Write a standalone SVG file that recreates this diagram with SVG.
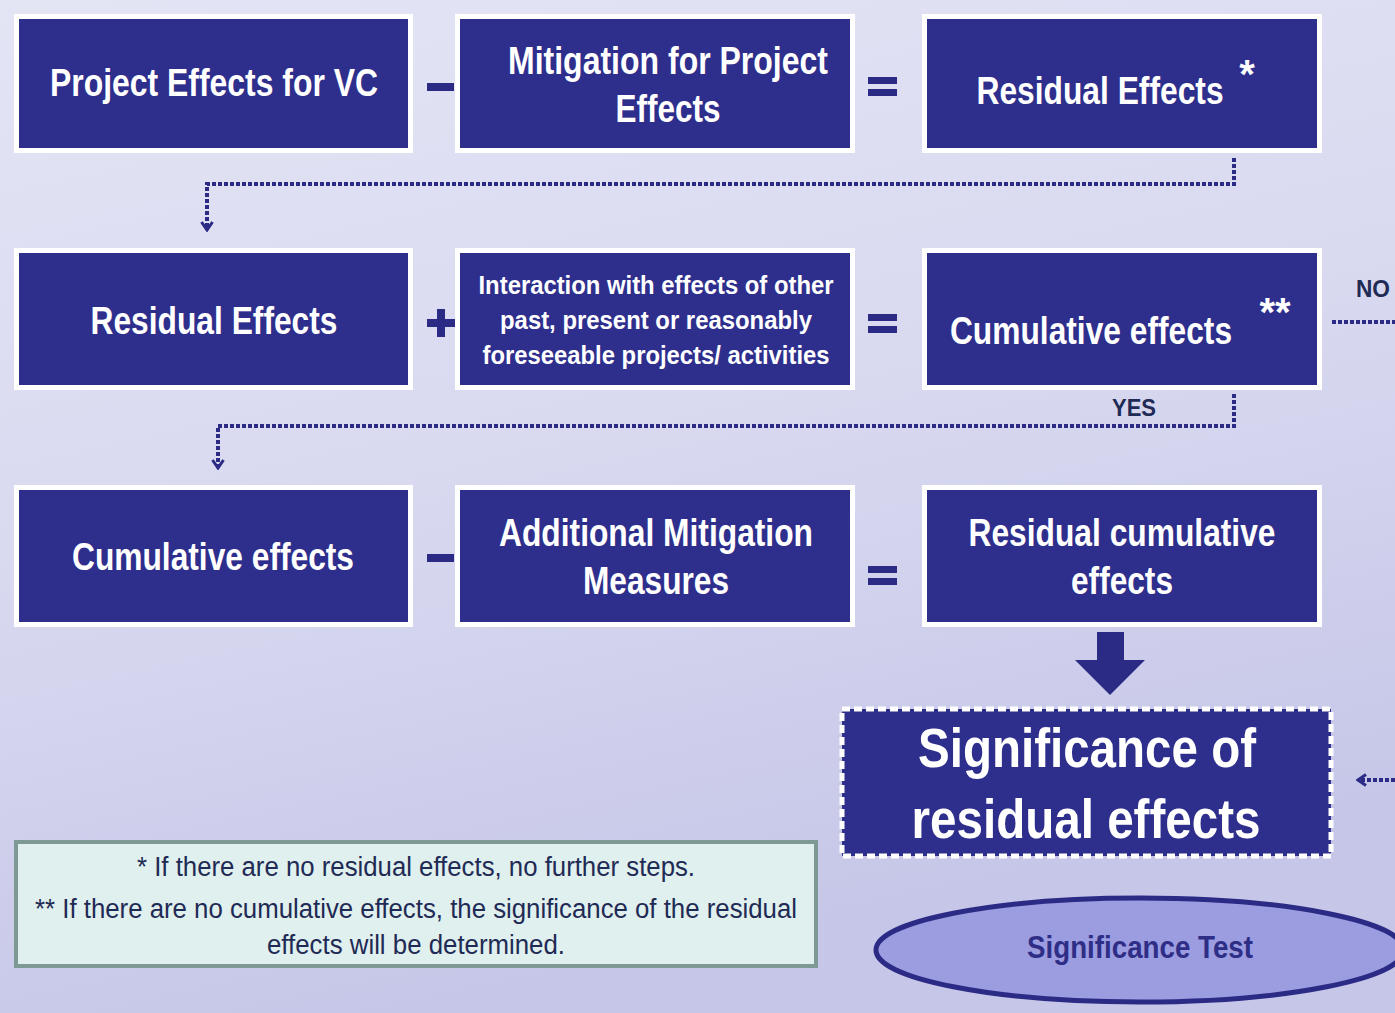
<svg xmlns="http://www.w3.org/2000/svg" width="1395" height="1013" viewBox="0 0 1395 1013">
  <defs>
    <linearGradient id="bg" x1="0" y1="0" x2="0.3" y2="1">
      <stop offset="0" stop-color="#e3e4f4"/>
      <stop offset="0.5" stop-color="#d9daf0"/>
      <stop offset="1" stop-color="#c6c6e8"/>
    </linearGradient>
    <marker id="chev" viewBox="0 0 12 14" refX="10" refY="7" markerWidth="12" markerHeight="14" markerUnits="userSpaceOnUse" orient="auto">
      <path d="M2,1.5 L10,7 L2,12.5" fill="none" stroke="#2b2b86" stroke-width="3"/>
    </marker>
    <style>
      .box { fill: #2e2e8c; stroke: #ffffff; stroke-width: 5; }
      .lbl { fill: #ffffff; font-family: "Liberation Sans", Arial, sans-serif; font-weight: bold; text-anchor: middle; }
      .op { fill: #2b2b86; }
      .dot { fill: none; stroke: #2b2b86; stroke-width: 4; stroke-dasharray: 4 2; }
      .note { fill: #1f2a55; font-family: "Liberation Sans", Arial, sans-serif; font-size: 27px; text-anchor: middle; }
      .tag { fill: #1f2a55; font-family: "Liberation Sans", Arial, sans-serif; font-weight: bold; font-size: 24px; text-anchor: middle; }
    </style>
  </defs>

  <rect width="1395" height="1013" fill="url(#bg)"/>

  <!-- row 1 -->
  <g id="project-effects">
    <rect class="box" x="16.5" y="16.5" width="394" height="134"/>
    <text class="lbl" x="214" y="96" font-size="38" textLength="328" lengthAdjust="spacingAndGlyphs">Project Effects for VC</text>
  </g>
  <g id="mitigation">
    <rect class="box" x="457.5" y="16.5" width="395" height="134"/>
    <text class="lbl" x="668" y="74" font-size="38" textLength="320" lengthAdjust="spacingAndGlyphs">Mitigation for Project</text>
    <text class="lbl" x="668" y="122" font-size="38" textLength="105" lengthAdjust="spacingAndGlyphs">Effects</text>
  </g>
  <g id="residual-effects-1">
    <rect class="box" x="924.5" y="16.5" width="395" height="134"/>
    <!-- condensed by horizontal scaling -->
    <text class="lbl" font-size="38" transform="translate(1100 104) scale(0.836 1)">Residual Effects</text>
    <text class="lbl" x="1247" y="88" font-size="40">*</text>
  </g>

  <!-- row 2 -->
  <g id="residual-effects-2">
    <rect class="box" x="16.5" y="250.5" width="394" height="137"/>
    <text class="lbl" x="214" y="334" font-size="38" textLength="247" lengthAdjust="spacingAndGlyphs">Residual Effects</text>
  </g>
  <g id="interaction">
    <rect class="box" x="457.5" y="250.5" width="395" height="137"/>
    <text class="lbl" x="656" y="294" font-size="26" textLength="355" lengthAdjust="spacingAndGlyphs">Interaction with effects of other</text>
    <text class="lbl" x="656" y="329" font-size="26" textLength="312" lengthAdjust="spacingAndGlyphs">past, present or reasonably</text>
    <text class="lbl" x="656" y="364" font-size="26" textLength="347" lengthAdjust="spacingAndGlyphs">foreseeable projects/ activities</text>
  </g>
  <g id="cumulative-effects-1">
    <rect class="box" x="924.5" y="250.5" width="395" height="137"/>
    <text class="lbl" font-size="38" transform="translate(1091 344) scale(0.835 1)">Cumulative effects</text>
    <text class="lbl" x="1275" y="326" font-size="40">**</text>
  </g>

  <!-- row 3 -->
  <g id="cumulative-effects-2">
    <rect class="box" x="16.5" y="487.5" width="394" height="137"/>
    <text class="lbl" x="213" y="570" font-size="38" textLength="282" lengthAdjust="spacingAndGlyphs">Cumulative effects</text>
  </g>
  <g id="additional-mitigation">
    <rect class="box" x="457.5" y="487.5" width="395" height="137"/>
    <text class="lbl" x="656" y="546" font-size="38" textLength="314" lengthAdjust="spacingAndGlyphs">Additional Mitigation</text>
    <text class="lbl" x="656" y="594" font-size="38" textLength="146" lengthAdjust="spacingAndGlyphs">Measures</text>
  </g>
  <g id="residual-cumulative">
    <rect class="box" x="924.5" y="487.5" width="395" height="137"/>
    <text class="lbl" x="1122" y="546" font-size="38" textLength="307" lengthAdjust="spacingAndGlyphs">Residual cumulative</text>
    <text class="lbl" x="1122" y="594" font-size="38" textLength="102" lengthAdjust="spacingAndGlyphs">effects</text>
  </g>

  <!-- significance -->
  <g id="significance">
    <rect x="842" y="709" width="489" height="147" fill="#2e2e8c" stroke="#ffffff" stroke-width="5" stroke-dasharray="8 4"/>
    <text class="lbl" x="1087" y="767" font-size="56" textLength="338" lengthAdjust="spacingAndGlyphs">Significance of</text>
    <text class="lbl" x="1086" y="838" font-size="56" textLength="349" lengthAdjust="spacingAndGlyphs">residual effects</text>
  </g>

  <g id="significance-test">
    <ellipse cx="1140" cy="950" rx="264" ry="52" fill="#9c9ce0" stroke="#2b2b86" stroke-width="5"/>
    <text x="1140" y="958" fill="#2e2e86" font-family="'Liberation Sans', Arial, sans-serif" font-weight="bold" font-size="32" text-anchor="middle" textLength="226" lengthAdjust="spacingAndGlyphs">Significance Test</text>
  </g>

  <g id="notes">
    <rect x="16" y="842" width="800" height="124" fill="#dff0ee" stroke="#7e9893" stroke-width="4"/>
    <text class="note" x="416" y="876" textLength="558" lengthAdjust="spacingAndGlyphs">* If there are no residual effects, no further steps.</text>
    <text class="note" x="416" y="918" textLength="762" lengthAdjust="spacingAndGlyphs">** If there are no cumulative effects, the significance of the residual</text>
    <text class="note" x="416" y="954" textLength="298" lengthAdjust="spacingAndGlyphs">effects will be determined.</text>
  </g>

  <!-- operators -->
  <g id="operators">
    <rect class="op" x="427" y="83" width="27" height="8"/>
    <rect class="op" x="868" y="77" width="29" height="7"/>
    <rect class="op" x="868" y="89" width="29" height="7"/>
    <rect class="op" x="427" y="319" width="28" height="8"/>
    <rect class="op" x="437" y="309" width="8" height="28"/>
    <rect class="op" x="868" y="314" width="29" height="7"/>
    <rect class="op" x="868" y="326" width="29" height="7"/>
    <rect class="op" x="427" y="554" width="27" height="8"/>
    <rect class="op" x="868" y="566" width="29" height="7"/>
    <rect class="op" x="868" y="578" width="29" height="7"/>
  </g>

  <!-- connectors -->
  <g id="connectors">
    <path class="dot" d="M1234,158 V184 H207 V230" marker-end="url(#chev)"/>
    <path class="dot" d="M1234,394 V426 H218 V468" marker-end="url(#chev)"/>
    <path class="dot" d="M1332,322 H1395"/>
    <path class="dot" d="M1395,780 H1358" marker-end="url(#chev)"/>
    <path d="M1097,632 H1124 V660 H1145 L1110,695 L1075,660 H1097 Z" fill="#2b2b86"/>
    <text class="tag" x="1373" y="297" textLength="34" lengthAdjust="spacingAndGlyphs">NO</text>
    <text class="tag" x="1134" y="416" textLength="44" lengthAdjust="spacingAndGlyphs">YES</text>
  </g>
</svg>
